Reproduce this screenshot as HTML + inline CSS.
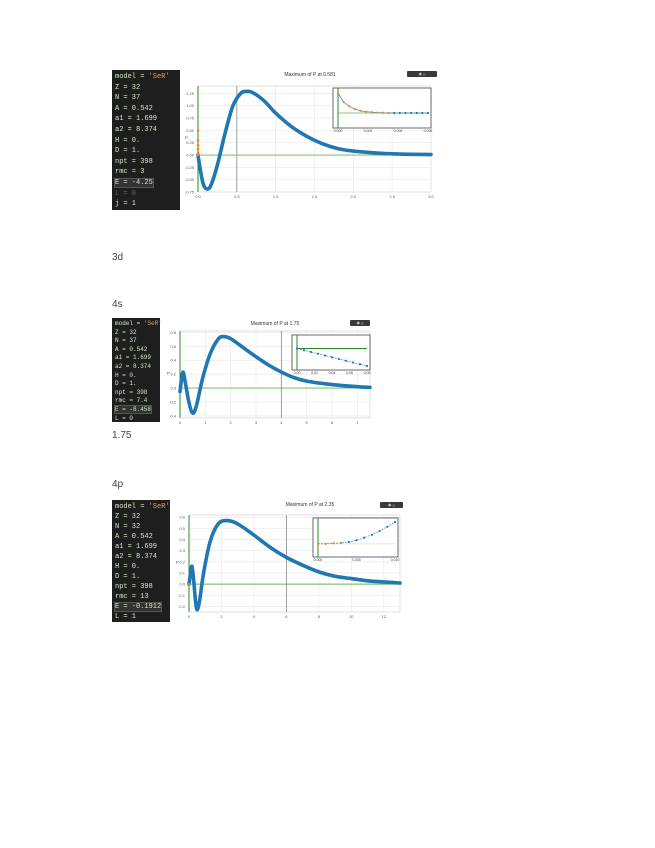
<!DOCTYPE html>
<html><head><meta charset="utf-8">
<style>
body{margin:0;background:#fff;width:655px;height:848px;position:relative;overflow:hidden;font-family:"Liberation Sans",sans-serif}
.code{position:absolute;background:#1e1e1e;color:#d4e8c8;font-family:"Liberation Mono",monospace;font-size:7px;padding:2px 3px;box-sizing:border-box;white-space:pre}
.code .s{color:#e0a060}.code .dim{color:#666}.code .cur{background:#333;outline:1px solid #555}
.lbl{position:absolute;font-size:10px;color:#444}
svg{position:absolute;left:0;top:0}
</style></head><body>
<div class="lbl" style="left:112px;top:252px">3d</div>
<div class="lbl" style="left:112px;top:299px">4s</div>
<div class="lbl" style="left:112px;top:430px">1.75</div>
<div class="lbl" style="left:112px;top:479px">4p</div>

<div class="code" style="left:112px;top:70px;width:68px;height:140px;line-height:10.6px">model = <span class="s">'SeR'</span>
Z = 32
N = 37
A = 0.542
a1 = 1.699
a2 = 8.374
H = 0.
D = 1.
npt = 398
rmc = 3
<span class="cur">E = -4.25</span>
<span class="dim">L = 0</span>
j = 1</div>
<div class="code" style="left:112px;top:318px;width:48px;height:104px;line-height:8.6px;font-size:6px">model = <span class="s">'SeR'</span>
Z = 32
N = 37
A = 0.542
a1 = 1.699
a2 = 8.374
H = 0.
D = 1.
npt = 398
rmc = 7.4
<span class="cur">E = -8.458</span>
L = 0</div>
<div class="code" style="left:112px;top:500px;width:58px;height:122px;line-height:10px">model = <span class="s">'SeR'</span>
Z = 32
N = 32
A = 0.542
a1 = 1.699
a2 = 8.374
H = 0.
D = 1.
npt = 398
rmc = 13
<span class="cur">E = -0.1912</span>
L = 1</div>

<svg id="svg" width="655" height="848" xmlns="http://www.w3.org/2000/svg" font-family="Liberation Sans, sans-serif"></svg>
<script>
// Panel 3d
const x3d=[0,0.03,0.07,0.12,0.17,0.25,0.35,0.45,0.55,0.62,0.7,0.85,1.0,1.2,1.4,1.6,1.8,2.0,2.3,2.6,3.0];
const y3d=[0,-0.3,-0.6,-0.69,-0.6,-0.2,0.45,1.0,1.25,1.29,1.27,1.1,0.85,0.58,0.38,0.23,0.13,0.08,0.04,0.02,0.01];
const xt3d=["0.0","0.5","1.0","1.5","2.0","2.5","3.0"];
const xv3d=[0,0.5,1,1.5,2,2.5,3];
const yv3d=[1.25,1.0,0.75,0.5,0.25,0,-0.25,-0.5,-0.75];
const yt3d=["1.25","1.00","0.75","0.50","0.25","0.00","-0.25","-0.50","-0.75"];
const orange3dY=[0.5,0.3,0.2,0.12,0.05,0];
// Panel 4s
const x4s=[0,0.05,0.12,0.2,0.35,0.5,0.65,0.9,1.2,1.5,1.7,2.0,2.5,3,3.5,4,4.5,5,6,7,7.5];
const y4s=[-0.05,0.1,0.23,0.1,-0.2,-0.36,-0.25,0.15,0.5,0.7,0.74,0.71,0.58,0.45,0.33,0.23,0.15,0.1,0.05,0.02,0.01];
const xv4s=[0,1,2,3,4,5,6,7];
const xt4s=["0","1","2","3","4","5","6","7"];
const yv4s=[0.8,0.6,0.4,0.2,0,-0.2,-0.4];
const yt4s=["0.8","0.6","0.4","0.2","0.0","-0.2","-0.4"];
// Panel 4p
const x4p=[0,0.1,0.18,0.28,0.4,0.5,0.65,0.9,1.3,1.8,2.35,3,4,5,6,7,8,9,10,11,12,13];
const y4p=[0,0.1,0.16,0.05,-0.15,-0.23,-0.15,0.1,0.38,0.54,0.57,0.54,0.44,0.33,0.24,0.17,0.11,0.07,0.05,0.03,0.02,0.01];
const xv4p=[0,2,4,6,8,10,12];
const xt4p=["0","2","4","6","8","10","12"];
const yv4p=[0.6,0.5,0.4,0.3,0.2,0.1,0,-0.1,-0.2];
const yt4p=["0.6","0.5","0.4","0.3","0.2","0.1","0.0","-0.1","-0.2"];
// insets
const in3dOrange=[0.9,0.5,0.3,0.18,0.1,0.06,0.04,0.02,0.01,0];
const in3dBlue=[0,0,0,0,0,0,0];
const in4sBlue=[0,-0.05,-0.1,-0.15,-0.2,-0.25,-0.3,-0.35,-0.4,-0.45,-0.5];
const in4pOrange=[0,0,0.02,0.03];
const in4pBlue=[0.06,0.12,0.2,0.3,0.42,0.56,0.72];

const S=document.getElementById('svg');
const NS="http://www.w3.org/2000/svg";
function mk(t,a,p){const e=document.createElementNS(NS,t);for(const k in a)e.setAttribute(k,a[k]);(p||S).appendChild(e);return e;}
function smooth(pts){let d="M"+pts[0][0]+","+pts[0][1];for(let i=0;i<pts.length-1;i++){const p0=pts[Math.max(i-1,0)],p1=pts[i],p2=pts[i+1],p3=pts[Math.min(i+2,pts.length-1)];
const c1=[p1[0]+(p2[0]-p0[0])/6,p1[1]+(p2[1]-p0[1])/6],c2=[p2[0]-(p3[0]-p1[0])/6,p2[1]-(p3[1]-p1[1])/6];d+=" C"+c1+" "+c2+" "+p2;}return d;}

function panel(o){
 const g=mk('g',{});
 
 
 const sx=v=>o.L+(v-o.x0)/(o.x1-o.x0)*(o.R-o.L);
 const sy=v=>o.B-(v-o.y0)/(o.y1-o.y0)*(o.B-o.T);
 mk('rect',{x:o.L,y:o.T,width:o.R-o.L,height:o.B-o.T,fill:'#fff',stroke:'#ccc','stroke-width':0.6},g);
 o.xv.forEach((v,i)=>{const x=sx(v);mk('line',{x1:x,x2:x,y1:o.T,y2:o.B,stroke:'#e6e6e6','stroke-width':0.6},g);
  const t=mk('text',{x:x,y:o.B+6,'font-size':4,'text-anchor':'middle',fill:'#555'},g);t.textContent=o.xt[i];
  });
 o.yv.forEach((v,i)=>{const y=sy(v);mk('line',{x1:o.L,x2:o.R,y1:y,y2:y,stroke:'#e6e6e6','stroke-width':0.6},g);
  const t=mk('text',{x:o.L-4,y:y+1.5,'font-size':4,'text-anchor':'end',fill:'#555'},g);t.textContent=o.yt[i];
  });
 mk('line',{x1:sx(o.gx),x2:sx(o.gx),y1:o.T,y2:o.B,stroke:'#888','stroke-width':0.8},g);
 mk('line',{x1:o.L,x2:o.R,y1:sy(0),y2:sy(0),stroke:'#6ab04c','stroke-width':0.9},g);
 mk('line',{x1:o.L,x2:o.L,y1:o.T,y2:o.B,stroke:'#2a8a2a','stroke-width':1},g);
 const yl=mk('text',{x:o.L-13,y:(o.T+o.B)/2,'font-size':4,fill:'#333'},g);yl.textContent='P';
 
 const pts=o.xs.map((v,i)=>[sx(v),sy(o.ys[i])]);
 const c=mk('path',{d:smooth(pts),fill:'none',stroke:'#1f77b4','stroke-width':3.6,'stroke-linecap':'round'},g);
 
 (o.orange||[]).forEach(v=>{const m=mk('circle',{cx:sx(0),cy:sy(v),r:1.3,fill:'#ff7f0e'},g);
  });
 const tt=mk('text',{x:o.tx,y:o.ty,'font-size':5,'text-anchor':'middle',fill:'#333'},g);tt.textContent=o.title;
 
 const b=mk('rect',{x:o.bx,y:o.by,width:o.bw,height:6,fill:'#3a3a3a',rx:1},g);
 
 const bt=mk('text',{x:o.bx+o.bw/2,y:o.by+4.5,'font-size':4,'text-anchor':'middle',fill:'#fff'},g);bt.textContent='✥ ⌂';
 // inset
 const I=o.inset;
 const ig=mk('g',{},g);
 
 mk('rect',{x:I.x,y:I.y,width:I.w,height:I.h,fill:'#fff',stroke:'#444','stroke-width':0.8},ig);
 const il=I.x+5,ib=I.y+I.h-4,it=I.y+3,ir=I.x+I.w-3;
 const iy=v=>ib-(v-I.y0)/(I.y1-I.y0)*(ib-it);
 mk('line',{x1:il,x2:il,y1:I.y,y2:I.y+I.h,stroke:'#2a8a2a','stroke-width':1},ig);
 mk('line',{x1:il,x2:ir,y1:iy(0),y2:iy(0),stroke:I.gcol,'stroke-width':I.gw},ig);
 I.labels.forEach((s,i)=>{const t=mk('text',{x:il+i*(ir-il)/(I.labels.length-1),y:I.y+I.h+4,'font-size':3.5,'text-anchor':'middle',fill:'#444'},ig);t.textContent=s;});
 const n=I.orange.length+I.blue.length;const dx=(ir-il)/(n-1);
 const all=I.orange.concat(I.blue);
 const ip=all.map((v,i)=>[il+i*dx,iy(v)]);
 mk('polyline',{points:ip.map(p=>p.join(',')).join(' '),fill:'none',stroke:'#1f77b4','stroke-width':0.6,'stroke-dasharray':I.dash||'none'},ig);
 ip.forEach((p,i)=>mk('circle',{cx:p[0],cy:p[1],r:1.1,fill:i<I.orange.length?'#ff7f0e':'#1f77b4'},ig));
}
panel({name:'chart-3d',L:198,R:431,T:86,B:192,x0:0,x1:3,y0:-0.75,y1:1.4,xv:xv3d,xt:xt3d,yv:yv3d,yt:yt3d,xs:x3d,ys:y3d,gx:0.5,orange:orange3dY,
 title:'Maximum of P at 0.581',tx:310,ty:76,bx:407,by:71,bw:30,
 inset:{x:333,y:88,w:98,h:40,y0:-0.5,y1:1,gcol:'#6ab04c',gw:0.8,orange:in3dOrange,blue:in3dBlue,labels:['0.000','0.002','0.004','0.006']}});
panel({name:'chart-4s',L:180,R:370,T:331,B:418,x0:0,x1:7.5,y0:-0.43,y1:0.82,xv:xv4s,xt:xt4s,yv:yv4s,yt:yt4s,xs:x4s,ys:y4s,gx:4,
 title:'Maximum of P at 1.75',tx:275,ty:325,bx:350,by:320,bw:20,
 inset:{x:292,y:335,w:78,h:35,y0:-0.5,y1:0.3,gcol:'#2a8a2a',gw:1,dash:'2,1',orange:[],blue:in4sBlue,labels:['0.00','0.02','0.04','0.06','0.08']}});
panel({name:'chart-4p',L:189,R:400,T:515,B:612,x0:0,x1:13,y0:-0.25,y1:0.62,xv:xv4p,xt:xt4p,yv:yv4p,yt:yt4p,xs:x4p,ys:y4p,gx:6,orange:[0],
 title:'Maximum of P at 2.35',tx:310,ty:506,bx:380,by:502,bw:23,
 inset:{x:313,y:518,w:85,h:39,y0:-0.3,y1:0.75,gcol:'#cfe8c0',gw:0.8,dash:'2,1',orange:in4pOrange,blue:in4pBlue,labels:['0.000','0.005','0.010']}});
</script>
</body></html>
